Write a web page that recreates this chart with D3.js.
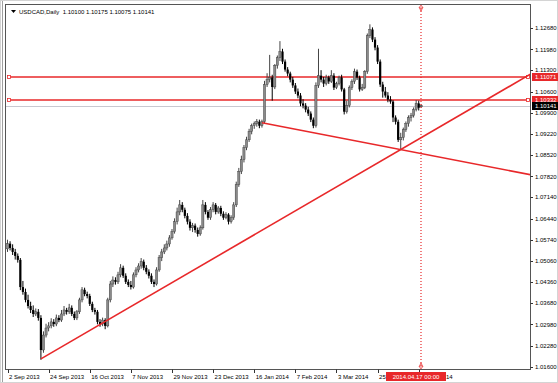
<!DOCTYPE html>
<html>
<head>
<meta charset="utf-8">
<script src="https://cdn.jsdelivr.net/npm/d3@7"></script>
<style>
body { margin: 0; background: #fff; }
</style>
</head>
<body>
<div id="container"></div>
<script>
/* Bougies journalieres USDCAD : [open, high, low, close], une par jour ouvre depuis le 2 Sep 2013 */
const candles = [
[1.0545,1.0575,1.0535,1.0562],[1.0562,1.0570,1.0540,1.0548],[1.0548,1.0560,1.0525,1.0535],[1.0535,1.0545,1.0510,1.0522],
[1.0522,1.0530,1.0500,1.0509],[1.0509,1.0515,1.0410,1.0420],[1.0420,1.0440,1.0395,1.0404],[1.0404,1.0415,1.0370,1.0378],
[1.0378,1.0395,1.0350,1.0358],[1.0358,1.0372,1.0335,1.0345],[1.0345,1.0360,1.0322,1.0332],[1.0332,1.0350,1.0325,1.0339],
[1.0339,1.0348,1.0310,1.0319],[1.0319,1.0328,1.0182,1.0214],[1.0214,1.0275,1.0205,1.0263],[1.0263,1.0300,1.0255,1.0286],
[1.0286,1.0305,1.0275,1.0293],[1.0293,1.0318,1.0285,1.0306],[1.0306,1.0315,1.0290,1.0299],[1.0299,1.0330,1.0292,1.0319],
[1.0319,1.0328,1.0305,1.0312],[1.0312,1.0345,1.0306,1.0332],[1.0332,1.0358,1.0325,1.0345],[1.0345,1.0352,1.0330,1.0339],
[1.0339,1.0365,1.0332,1.0352],[1.0352,1.0360,1.0325,1.0332],[1.0332,1.0340,1.0312,1.0319],[1.0319,1.0345,1.0312,1.0339],
[1.0339,1.0385,1.0332,1.0378],[1.0378,1.0420,1.0370,1.0411],[1.0411,1.0418,1.0390,1.0397],[1.0397,1.0405,1.0383,1.0391],
[1.0391,1.0398,1.0358,1.0365],[1.0365,1.0372,1.0338,1.0345],[1.0345,1.0352,1.0330,1.0339],[1.0339,1.0345,1.0298,1.0306],
[1.0306,1.0315,1.0290,1.0299],[1.0299,1.0320,1.0292,1.0312],[1.0312,1.0318,1.0282,1.0293],[1.0293,1.0385,1.0288,1.0378],
[1.0378,1.0440,1.0370,1.0430],[1.0430,1.0455,1.0420,1.0443],[1.0443,1.0452,1.0428,1.0437],[1.0437,1.0470,1.0430,1.0460],
[1.0460,1.0495,1.0452,1.0483],[1.0483,1.0490,1.0450,1.0457],[1.0457,1.0465,1.0430,1.0437],[1.0437,1.0445,1.0420,1.0427],
[1.0427,1.0440,1.0412,1.0420],[1.0420,1.0468,1.0415,1.0460],[1.0460,1.0485,1.0452,1.0476],[1.0476,1.0498,1.0468,1.0489],
[1.0489,1.0515,1.0480,1.0503],[1.0503,1.0510,1.0475,1.0483],[1.0483,1.0492,1.0462,1.0470],[1.0470,1.0478,1.0448,1.0457],
[1.0457,1.0465,1.0430,1.0437],[1.0437,1.0445,1.0420,1.0430],[1.0430,1.0485,1.0425,1.0476],[1.0476,1.0525,1.0470,1.0516],
[1.0516,1.0545,1.0505,1.0535],[1.0535,1.0560,1.0528,1.0548],[1.0548,1.0572,1.0540,1.0561],[1.0561,1.0590,1.0552,1.0581],
[1.0581,1.0610,1.0575,1.0601],[1.0601,1.0645,1.0595,1.0634],[1.0634,1.0680,1.0625,1.0666],[1.0666,1.0705,1.0655,1.0689],
[1.0689,1.0698,1.0665,1.0673],[1.0673,1.0680,1.0645,1.0653],[1.0653,1.0662,1.0625,1.0634],[1.0634,1.0642,1.0605,1.0614],
[1.0614,1.0630,1.0600,1.0621],[1.0621,1.0628,1.0598,1.0607],[1.0607,1.0615,1.0585,1.0594],[1.0594,1.0622,1.0588,1.0614],
[1.0614,1.0705,1.0608,1.0689],[1.0689,1.0698,1.0658,1.0666],[1.0666,1.0672,1.0640,1.0647],[1.0647,1.0682,1.0640,1.0673],
[1.0673,1.0698,1.0665,1.0689],[1.0689,1.0695,1.0658,1.0666],[1.0666,1.0685,1.0660,1.0679],[1.0679,1.0686,1.0652,1.0660],
[1.0660,1.0668,1.0640,1.0647],[1.0647,1.0665,1.0642,1.0657],[1.0657,1.0662,1.0625,1.0634],[1.0634,1.0655,1.0628,1.0647],
[1.0647,1.0698,1.0640,1.0689],[1.0689,1.0765,1.0682,1.0755],[1.0755,1.0810,1.0748,1.0798],[1.0798,1.0850,1.0790,1.0837],
[1.0837,1.0885,1.0828,1.0876],[1.0876,1.0912,1.0868,1.0902],[1.0902,1.0938,1.0895,1.0929],[1.0929,1.0955,1.0920,1.0948],
[1.0948,1.0962,1.0938,1.0955],[1.0955,1.0970,1.0945,1.0961],[1.0961,1.0968,1.0940,1.0948],[1.0948,1.0968,1.0942,1.0961],
[1.0961,1.1095,1.0955,1.1083],[1.1083,1.1120,1.1075,1.1099],[1.1099,1.1180,1.1090,1.1106],[1.1106,1.1115,1.1030,1.1075],
[1.1075,1.1150,1.1068,1.1145],[1.1145,1.1178,1.1135,1.1171],[1.1171,1.1225,1.1160,1.1191],[1.1191,1.1200,1.1150,1.1158],
[1.1158,1.1165,1.1125,1.1132],[1.1132,1.1140,1.1110,1.1119],[1.1119,1.1125,1.1090,1.1099],[1.1099,1.1108,1.1072,1.1080],
[1.1080,1.1088,1.1052,1.1060],[1.1060,1.1070,1.1038,1.1047],[1.1047,1.1055,1.1012,1.1021],[1.1021,1.1035,1.1005,1.1014],
[1.1014,1.1022,1.0992,1.1001],[1.1001,1.1010,1.0980,1.0988],[1.0988,1.0995,1.0960,1.0968],[1.0968,1.0975,1.0940,1.0948],
[1.0948,1.1090,1.0942,1.1080],[1.1080,1.1200,1.1072,1.1112],[1.1112,1.1130,1.1090,1.1099],[1.1099,1.1108,1.1075,1.1086],
[1.1086,1.1115,1.1080,1.1106],[1.1106,1.1112,1.1085,1.1093],[1.1093,1.1130,1.1088,1.1112],[1.1112,1.1120,1.1065,1.1073],
[1.1073,1.1092,1.1068,1.1086],[1.1086,1.1112,1.1080,1.1106],[1.1106,1.1115,1.1060,1.1067],[1.1067,1.1072,1.0985,1.0994],
[1.0994,1.1030,1.0988,1.1014],[1.1014,1.1080,1.1008,1.1073],[1.1073,1.1100,1.1065,1.1093],[1.1093,1.1135,1.1085,1.1125],
[1.1125,1.1132,1.1098,1.1106],[1.1106,1.1112,1.1060,1.1067],[1.1067,1.1085,1.1062,1.1073],[1.1073,1.1130,1.1068,1.1125],
[1.1125,1.1250,1.1118,1.1243],[1.1243,1.1280,1.1235,1.1263],[1.1263,1.1270,1.1222,1.1230],[1.1230,1.1238,1.1195,1.1204],
[1.1204,1.1212,1.1150,1.1158],[1.1158,1.1165,1.1075,1.1083],[1.1083,1.1092,1.1040,1.1060],[1.1060,1.1075,1.1040,1.1047],
[1.1047,1.1058,1.1025,1.1034],[1.1034,1.1045,1.1020,1.1027],[1.1027,1.1032,1.0960,1.0975],[1.0975,1.0982,1.0952,1.0961],
[1.0961,1.0968,1.0895,1.0902],[1.0902,1.0925,1.0870,1.0909],[1.0909,1.0942,1.0900,1.0935],[1.0935,1.0962,1.0928,1.0955],
[1.0955,1.0982,1.0945,1.0975],[1.0975,1.0990,1.0962,1.0981],[1.0981,1.1008,1.0975,1.1001],[1.1001,1.1032,1.0995,1.1021],
[1.1021,1.1030,1.0998,1.1007],[1.10100,1.10175,1.10075,1.10141]
];

/* Graduations de l'axe des prix */
const priceTicks = [1.12680, 1.11980, 1.11300, 1.10600, 1.09900, 1.09220, 1.08520, 1.07820, 1.07140,
	1.06440, 1.05740, 1.05060, 1.04360, 1.03680, 1.02980, 1.02280, 1.01600];

/* Graduations de l'axe du temps (toutes les 16 barres) */
const dateLabels = ["2 Sep 2013", "24 Sep 2013", "16 Oct 2013", "7 Nov 2013", "29 Nov 2013", "23 Dec 2013",
	"16 Jan 2014", "7 Feb 2014", "3 Mar 2014", "25 Mar 2014", "16 Apr 2014"];
const dateStep = 16;

/* Niveaux horizontaux et prix courant */
const levels = [1.11071, 1.10332];
const bidPrice = 1.10141;

/* Lignes de tendance : [indice de barre, prix] */
const trendUp = [[13, 1.0185], [153, 1.0870]];
const trendDown = [[99, 1.0958], [153, 1.0870]];

/* Ligne verticale et sa date */
const cursorBar = 161;
const cursorLabel = "2014.04.17 00:00";
const title = "USDCAD,Daily  1.10100 1.10175 1.10075 1.10141";

/**
 * Dimensions
**/
const W = 558, H = 383,
plotLeft = 6, plotRight = 531, plotTop = 5, plotBottom = 370,
fontPolice = "'Liberation Sans', Arial, sans-serif",
red = "#e8282a";

const x = d3.scaleLinear().domain([0, 161]).range([7.5, 421.3]);
const y = d3.scaleLinear().domain([1.01600, 1.12680]).range([366.5, 28]);

const svg = d3.select("#container").append("svg")
	.attr("width", W)
	.attr("height", H)
	.style("font-family", fontPolice);

/* Cadre */
svg.append("rect").attr("x", 0.5).attr("y", 0.5).attr("width", W - 1).attr("height", H - 1)
	.attr("fill", "#fff").attr("stroke", "#d4d4d4");
svg.append("line").attr("x1", 2.5).attr("x2", 2.5).attr("y1", 1).attr("y2", H - 1).attr("stroke", "#a0a0a0");
svg.append("rect")
	.attr("x", plotLeft - 0.5).attr("y", plotTop - 0.5)
	.attr("width", plotRight - plotLeft).attr("height", plotBottom - plotTop)
	.attr("fill", "#fff").attr("stroke", "#555");

const plot = svg.append("g");
const clip = svg.append("clipPath").attr("id", "clip").append("rect")
	.attr("x", plotLeft).attr("y", plotTop).attr("width", plotRight - plotLeft - 1).attr("height", plotBottom - plotTop - 1);
plot.attr("clip-path", "url(#clip)");

/* Ligne du prix courant */
plot.append("line")
	.attr("x1", plotLeft).attr("x2", plotRight)
	.attr("y1", Math.round(y(bidPrice)) + 0.5).attr("y2", Math.round(y(bidPrice)) + 0.5)
	.attr("stroke", "#c8c8d0");

/* Niveaux horizontaux */
levels.forEach(function(l){
	const yy = Math.round(y(l));
	plot.append("line").attr("x1", plotLeft + 3).attr("x2", plotRight - 2).attr("y1", yy).attr("y2", yy)
		.attr("stroke", red).attr("stroke-width", 1.3);
	[plotLeft + 2, plotRight - 4].forEach(function(px){
		plot.append("rect").attr("x", px - 0.5).attr("y", yy - 1.5).attr("width", 3).attr("height", 3)
			.attr("fill", "#fff").attr("stroke", red).attr("stroke-width", 0.8);
	});
});

/* Bougies */
plot.selectAll("line.wick")
	.data(candles)
	.enter().append("line")
		.attr("class", "wick")
		.attr("x1", function(d, i){return x(i)})
		.attr("x2", function(d, i){return x(i)})
		.attr("y1", function(d){return y(d[1])})
		.attr("y2", function(d){return y(d[2])})
		.attr("stroke", function(d){return d[3] >= d[0] ? "#444" : "#000"})
		.attr("stroke-width", 1);

plot.selectAll("rect.body")
	.data(candles)
	.enter().append("rect")
		.attr("class", "body")
		.attr("x", function(d, i){return x(i) - 1.1})
		.attr("y", function(d){return y(Math.max(d[0], d[3]))})
		.attr("width", 2.2)
		.attr("height", function(d){return Math.max(1, Math.abs(y(d[0]) - y(d[3])))})
		.attr("fill", function(d){return d[3] >= d[0] ? "#8a8a8a" : "#000"})
		.attr("stroke", function(d){return d[3] >= d[0] ? "#333" : "none"})
		.attr("stroke-width", 0.4);

/* Lignes de tendance, prolongees jusqu'au bord droit */
function trend(pts){
	const s = (pts[1][1] - pts[0][1]) / (pts[1][0] - pts[0][0]);
	const iEnd = x.invert(plotRight);
	plot.append("line")
		.attr("x1", x(pts[0][0])).attr("y1", y(pts[0][1]))
		.attr("x2", x(iEnd)).attr("y2", y(pts[0][1] + s * (iEnd - pts[0][0])))
		.attr("stroke", red).attr("stroke-width", 1.6);
}
trend(trendUp);
trend(trendDown);

/* Ligne verticale pointillee */
const cx = Math.round(x(cursorBar));
plot.append("line")
	.attr("x1", cx).attr("x2", cx).attr("y1", plotTop).attr("y2", plotBottom)
	.attr("stroke", red).attr("stroke-width", 1.2).attr("stroke-dasharray", "1,2");
plot.append("path").attr("d", "M" + (cx - 2) + "," + (plotTop + 2) + "L" + (cx + 2) + "," + (plotTop + 2) + "L" + cx + "," + (plotTop + 6) + "Z")
	.attr("fill", "none").attr("stroke", red).attr("stroke-width", 0.8);
plot.append("path").attr("d", "M" + (cx - 2) + "," + (plotBottom - 3) + "L" + (cx + 2) + "," + (plotBottom - 3) + "L" + cx + "," + (plotBottom - 7) + "Z")
	.attr("fill", "none").attr("stroke", red).attr("stroke-width", 0.8);

/* Titre */
svg.append("path").attr("d", "M11,10L16,10L13.5,13Z").attr("fill", "#000");
svg.append("text").attr("x", 19).attr("y", 14).style("font-size", "6px").attr("xml:space", "preserve").text(title);

/**
 * Axe des prix
**/
const yAxis = svg.append("g");
yAxis.selectAll("line")
	.data(priceTicks)
	.enter().append("line")
		.attr("x1", plotRight - 0.5).attr("x2", plotRight + 2)
		.attr("y1", function(d){return Math.round(y(d)) + 0.5})
		.attr("y2", function(d){return Math.round(y(d)) + 0.5})
		.attr("stroke", "#333");
yAxis.selectAll("text")
	.data(priceTicks)
	.enter().append("text")
		.attr("x", plotRight + 4)
		.attr("y", function(d){return y(d) + 2.2})
		.style("font-size", "6px")
		.text(function(d){return d.toFixed(5)});

/* Etiquettes des niveaux */
function priceBox(p, fill){
	const yy = Math.round(y(p));
	svg.append("rect").attr("x", plotRight + 1).attr("y", yy - 4).attr("width", 26).attr("height", 8).attr("fill", fill);
	svg.append("text").attr("x", plotRight + 4).attr("y", yy + 2.2).style("font-size", "6px")
		.attr("fill", "#fff").text(p.toFixed(5));
}
levels.forEach(function(l){ priceBox(l, red); });
priceBox(bidPrice, "#000");

/**
 * Axe du temps
**/
const xAxis = svg.append("g");
xAxis.selectAll("line")
	.data(dateLabels)
	.enter().append("line")
		.attr("x1", function(d, i){return Math.round(x(i * dateStep)) + 0.5})
		.attr("x2", function(d, i){return Math.round(x(i * dateStep)) + 0.5})
		.attr("y1", plotBottom - 0.5).attr("y2", plotBottom + 3)
		.attr("stroke", "#333");
xAxis.selectAll("text")
	.data(dateLabels)
	.enter().append("text")
		.attr("x", function(d, i){return x(i * dateStep) + 1.5})
		.attr("y", plotBottom + 9)
		.style("font-size", "6px")
		.text(function(d){return d});

/* Etiquette de la ligne verticale */
svg.append("rect").attr("x", cx - 35).attr("y", plotBottom + 2).attr("width", 60).attr("height", 9).attr("fill", red);
svg.append("text").attr("x", cx - 5).attr("y", plotBottom + 9).attr("text-anchor", "middle")
	.style("font-size", "6px").attr("fill", "#fff").text(cursorLabel);
</script>
</body>
</html>
